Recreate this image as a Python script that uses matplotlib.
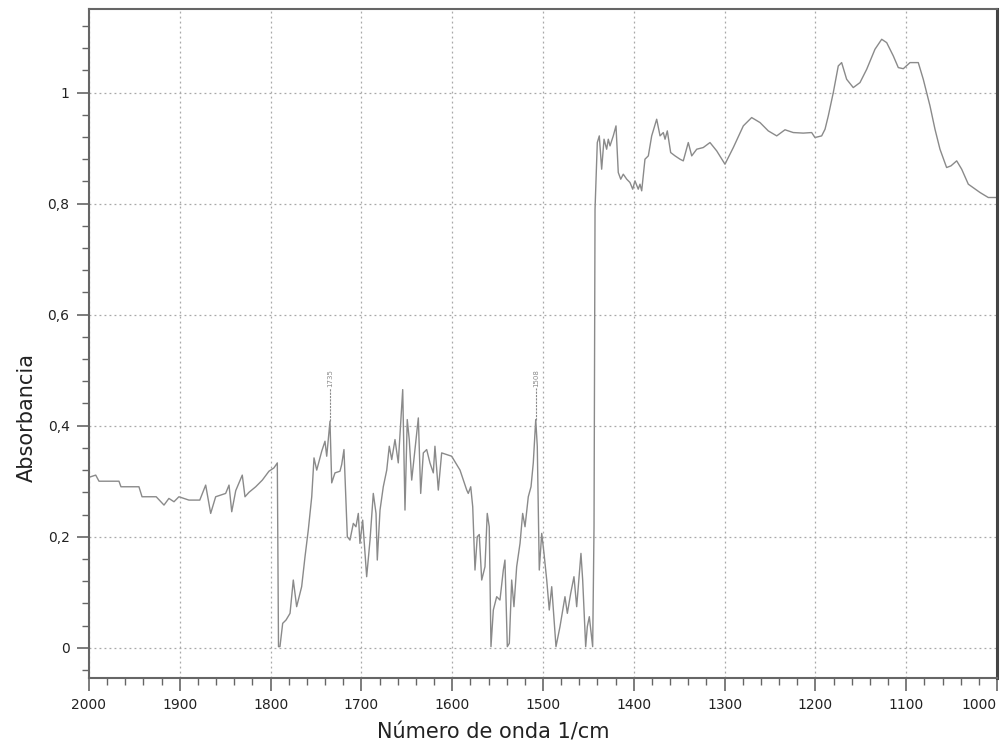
import matplotlib
matplotlib.use("Agg")
import matplotlib.pyplot as plt
from matplotlib.ticker import MultipleLocator, FuncFormatter

# espectro (numero de onda, absorbancia)
numero_onda = [
    2000, 1992.6, 1989, 1967, 1964.8, 1945, 1941.6, 1926, 1917.4, 1912,
    1906.4, 1901, 1890, 1878, 1871.5, 1866, 1860.5, 1849.5, 1845.8, 1842.8,
    1838.4, 1831.2, 1828.2, 1823.8, 1816.4, 1809.1, 1801.8, 1796.3, 1792.6, 1791.3,
    1789.7, 1786.7, 1783, 1778.6, 1775, 1771.3, 1765.8, 1762.1, 1758.5, 1754.7,
    1752.2, 1749.2, 1743.7, 1740.1, 1738.2, 1734.6, 1732.7, 1729.1, 1723.6, 1721.7,
    1719.2, 1715.5, 1712.6, 1708.9, 1706, 1703.4, 1701.6, 1698.6, 1696, 1694.2,
    1690.5, 1686.9, 1683.9, 1682.5, 1679.5, 1675.9, 1672.1, 1669.3, 1666.6, 1663,
    1659.4, 1654.5, 1652, 1649.5, 1647.3, 1644.6, 1637.3, 1634.7, 1631.8, 1628.1,
    1624.5, 1620.8, 1619, 1615.3, 1611.6, 1606.1, 1600.6, 1591.4, 1584, 1582.3,
    1579.6, 1577.4, 1574.9, 1572.4, 1570.2, 1567.5, 1563.9, 1561.4, 1559.2, 1557.3,
    1554.7, 1551, 1547.4, 1543.7, 1541.9, 1539.3, 1537.1, 1534.5, 1532, 1529,
    1525.3, 1522.4, 1519.8, 1516.2, 1513.2, 1510.7, 1508, 1506.3, 1504.1, 1501.4,
    1498.9, 1495.9, 1493.1, 1490.4, 1485.7, 1481.3, 1475.8, 1473.2, 1469.5, 1465.9,
    1462.9, 1458.2, 1456.3, 1453, 1451.2, 1449, 1445.3, 1443.8, 1442.7, 1440.2,
    1438, 1435.4, 1432.8, 1429.9, 1428.1, 1426.2, 1422.6, 1419.6, 1417.1, 1414.4,
    1411.6, 1407.8, 1404.2, 1401.2, 1398.7, 1395.1, 1393.2, 1391.3, 1387.7, 1384,
    1380.3, 1374.8, 1371.1, 1367.5, 1365.6, 1363.1, 1359.4, 1354.6, 1349.1, 1345.5,
    1340, 1336.2, 1330.7, 1323.5, 1316.1, 1308.7, 1299.6, 1290.4, 1279.4, 1270.2,
    1261, 1251.9, 1242.6, 1233.5, 1224.4, 1213.4, 1204.1, 1200.5, 1193.1, 1189.4,
    1185.8, 1180.3, 1174.8, 1171.1, 1165.6, 1158.3, 1150.9, 1143.5, 1134.4, 1127,
    1121.5, 1114.2, 1108.7, 1103.2, 1095.8, 1086.7, 1081.2, 1073.8, 1068.3, 1062.8,
    1055.5, 1050.7, 1044.4, 1038.9, 1031.6, 1018.7, 1009.6, 1001.1, 1000,
]
absorbancia = [
    0.307, 0.311, 0.300, 0.300, 0.290, 0.290, 0.272, 0.272, 0.257, 0.269,
    0.263, 0.272, 0.266, 0.266, 0.293, 0.242, 0.272, 0.278, 0.293, 0.245,
    0.283, 0.311, 0.272, 0.280, 0.290, 0.302, 0.318, 0.324, 0.333, 0.002,
    0.002, 0.044, 0.050, 0.062, 0.122, 0.074, 0.110, 0.164, 0.212, 0.272,
    0.342, 0.320, 0.354, 0.372, 0.345, 0.408, 0.297, 0.315, 0.318, 0.330,
    0.357, 0.200, 0.194, 0.224, 0.218, 0.242, 0.188, 0.230, 0.170, 0.128,
    0.194, 0.278, 0.242, 0.158, 0.248, 0.290, 0.320, 0.363, 0.339, 0.375,
    0.333, 0.465, 0.248, 0.411, 0.375, 0.302, 0.414, 0.278, 0.351, 0.357,
    0.333, 0.315, 0.363, 0.284, 0.351, 0.348, 0.345, 0.320, 0.284, 0.278,
    0.290, 0.254, 0.140, 0.200, 0.204, 0.122, 0.146, 0.242, 0.218, 0.002,
    0.068, 0.092, 0.086, 0.140, 0.158, 0.002, 0.008, 0.122, 0.074, 0.146,
    0.188, 0.242, 0.218, 0.272, 0.290, 0.333, 0.411, 0.363, 0.140, 0.206,
    0.170, 0.122, 0.068, 0.110, 0.002, 0.038, 0.092, 0.062, 0.098, 0.128,
    0.074, 0.170, 0.122, 0.002, 0.038, 0.056, 0.002, 0.218, 0.790, 0.910,
    0.922, 0.862, 0.916, 0.898, 0.916, 0.904, 0.922, 0.940, 0.856, 0.844,
    0.853, 0.844, 0.838, 0.826, 0.841, 0.826, 0.835, 0.823, 0.880, 0.886,
    0.922, 0.952, 0.922, 0.928, 0.916, 0.931, 0.892, 0.886, 0.880, 0.877,
    0.910, 0.886, 0.898, 0.901, 0.910, 0.895, 0.871, 0.901, 0.940, 0.955,
    0.946, 0.931, 0.922, 0.933, 0.928, 0.927, 0.928, 0.919, 0.922, 0.934,
    0.958, 1.000, 1.048, 1.054, 1.024, 1.009, 1.018, 1.042, 1.078, 1.096,
    1.090, 1.066, 1.045, 1.043, 1.054, 1.054, 1.024, 0.976, 0.934, 0.898,
    0.865, 0.868, 0.877, 0.862, 0.835, 0.820, 0.811, 0.811, 0.810,
]

# picos marcados
picos_x = [1734.6, 1508]
picos_y = [0.408, 0.411]
picos_txt = ['1735', '1508']

x_ticks = [2000, 1900, 1800, 1700, 1600, 1500, 1400, 1300, 1200, 1100, 1000]

fig = plt.figure(figsize=(10.07, 7.49), dpi=100)
ax = fig.add_axes([89/1007, 70.7/749, 908/1007, 669/749])

ax.plot(numero_onda, absorbancia, color='#8a8a8a', linewidth=1.0)

for px, py, t in zip(picos_x, picos_y, picos_txt):
    ax.vlines(px, py, 0.468, colors='#8a8a8a', linestyles=(0, (2, 1)), linewidth=0.8)
    ax.text(px, 0.47, t, rotation=90, fontsize=5, color='#8a8a8a',
            ha='center', va='bottom')

ax.set_xlim(2000, 1000)
ax.set_ylim(-0.055, 1.15)

ax.set_xticks(x_ticks)
ax.xaxis.set_minor_locator(MultipleLocator(20))
ax.yaxis.set_major_locator(MultipleLocator(0.2))
ax.yaxis.set_minor_locator(MultipleLocator(0.04))
ax.yaxis.set_major_formatter(FuncFormatter(lambda v, p: ('%g' % round(v, 2)).replace('.', ',')))

ax.grid(True, which='major', linestyle=(0, (1.5, 2.5)), color='#a8a8a8', linewidth=0.9)

ax.tick_params(axis='both', which='major', direction='out', length=9, width=1.2,
               color='#666666', labelsize=10, labelcolor='#222222', pad=5)
ax.tick_params(axis='both', which='minor', direction='out', length=5, width=1.0,
               color='#666666')
ax.tick_params(top=False, right=False)

# la ultima etiqueta queda dentro de la figura
ax.get_xticklabels()[-1].set_ha('right')

for s in ['left', 'bottom', 'top']:
    ax.spines[s].set_color('#666666')
    ax.spines[s].set_linewidth(1.5)
ax.spines['right'].set_color('#444444')
ax.spines['right'].set_linewidth(2.2)

fig.text(493/1007, 1 - 733/749, 'Número de onda 1/cm', fontsize=15,
         ha='center', va='center', color='#222222')
fig.text(27/1007, 1 - 418/749, 'Absorbancia', fontsize=15, rotation=90,
         ha='center', va='center', color='#222222')

fig.savefig('out.png', dpi=100)
